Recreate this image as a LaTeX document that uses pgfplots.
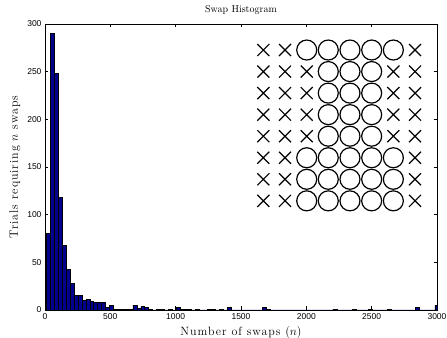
\documentclass[border=0pt]{standalone}
\usepackage{fontspec}
\usepackage{pgfplots}
\pgfplotsset{compat=1.18}
\newfontfamily\ticksf{Liberation Sans}
\newfontfamily\lsfont[Extension=.otf, LetterSpace=8]{lmroman12-regular}
\definecolor{barblue}{RGB}{0,0,140}
\begin{document}
\begin{tikzpicture}
\begin{axis}[
  scale only axis, width=392pt, height=286pt,
  xmin=0, xmax=3000, ymin=0, ymax=300,
  xtick={0,500,...,3000}, ytick={0,50,...,300},
  tick align=inside, major tick length=3.5pt,
  scaled ticks=false,
  /pgf/number format/1000 sep={},
  /pgf/number format/assume math mode=true,
  ticklabel style={font=\ticksf\fontsize{8.5}{10}\selectfont},
  axis line style={line width=0.6pt},
  every tick/.style={line width=0.6pt, black},
  title={Swap Histogram},
  title style={font=\fontsize{10}{12}\selectfont},
  xlabel={Number of swaps ($n$)},
  ylabel={Trials requiring $n$ swaps},
  label style={font=\lsfont\fontsize{12}{14}\selectfont},
]
\addplot[ybar interval, fill=barblue, draw=black, line width=0.5pt] coordinates {
(13,80) (43,290) (73,248) (103,118) (133,68) (163,43) (193,28) (223,15) (253,15) (283,10)
(313,11) (343,9) (373,8) (403,8) (433,8) (463,3) (493,5) (523,1) (553,1) (583,1)
(613,1) (643,1) (673,5) (703,2) (733,4) (763,3) (793,1) (823,0) (853,1) (883,1)
(913,0) (943,1) (973,0) (1003,3) (1033,1) (1063,1) (1093,1) (1123,0) (1153,1) (1183,0)
(1213,0) (1243,1) (1273,1) (1303,0) (1333,1) (1363,0) (1393,3) (1423,0) (1453,0) (1483,0)
(1513,0) (1543,0) (1573,0) (1603,0) (1633,0) (1663,3) (1693,1) (1723,0) (1753,0) (1783,0)
(1813,0) (1843,0) (1873,0) (1903,0) (1933,0) (1963,0) (1993,0) (2023,0) (2053,0) (2083,0)
(2113,0) (2143,0) (2173,0) (2203,1) (2233,0) (2263,0) (2293,0) (2323,0) (2353,1) (2383,0)
(2413,0) (2443,0) (2473,1) (2503,0) (2533,0) (2563,0) (2593,0) (2623,1) (2653,0) (2683,0)
(2713,0) (2743,0) (2773,0) (2803,0) (2833,3) (2863,0) (2893,0) (2923,0) (2953,0) (2983,5)
(3013,0)
};
\addplot[only marks, mark=x, mark size=8.5pt, line width=1.2pt, black] coordinates {
(1671,272.7) (1837,272.7) (2832,272.7)
(1671,250.1) (1837,250.1) (2003,250.1) (2666,250.1) (2832,250.1)
(1671,227.5) (1837,227.5) (2003,227.5) (2666,227.5) (2832,227.5)
(1671,204.9) (1837,204.9) (2003,204.9) (2666,204.9) (2832,204.9)
(1671,182.3) (1837,182.3) (2003,182.3) (2666,182.3) (2832,182.3)
(1671,159.7) (1837,159.7) (2832,159.7)
(1671,137.1) (1837,137.1) (2832,137.1)
(1671,114.5) (1837,114.5) (2832,114.5)
};
\addplot[only marks, mark=o, mark size=10pt, line width=1.2pt, black] coordinates {
(2003,272.7) (2168,272.7) (2334,272.7) (2500,272.7) (2666,272.7)
(2168,250.1) (2334,250.1) (2500,250.1)
(2168,227.5) (2334,227.5) (2500,227.5)
(2168,204.9) (2334,204.9) (2500,204.9)
(2168,182.3) (2334,182.3) (2500,182.3)
(2003,159.7) (2168,159.7) (2334,159.7) (2500,159.7) (2666,159.7)
(2003,137.1) (2168,137.1) (2334,137.1) (2500,137.1) (2666,137.1)
(2003,114.5) (2168,114.5) (2334,114.5) (2500,114.5) (2666,114.5)
};
\end{axis}
\pgfresetboundingbox
\path ([shift={(-45pt,-28pt)}]current axis.south west) rectangle ([shift={(10pt,24pt)}]current axis.north east);
\end{tikzpicture}
\end{document}
